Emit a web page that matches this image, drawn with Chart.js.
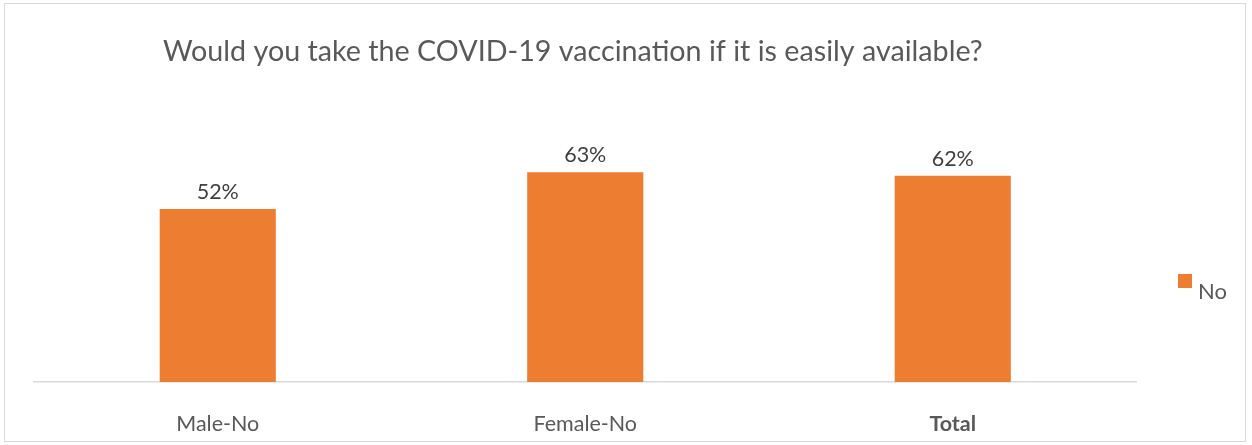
<!DOCTYPE html>
<html lang="en">
<head>
  <meta charset="UTF-8">
  <title>COVID-19 vaccination - No</title>
  <script src="https://cdn.jsdelivr.net/npm/chart.js"></script>
  <style>
    body { margin: 0; background: #fff; }
    .frame {
      position: absolute; left: 4px; top: 3px;
      width: 1240px; height: 437px;
      border: 1px solid #d9d9d9;
    }
    #chart { position: absolute; left: 0; top: 0; }
  </style>
</head>
<body>
  <div class="frame"></div>
  <canvas id="chart" width="1252" height="445"></canvas>

  <script>
    // Data
    const titleText = 'Would you take the COVID-19 vaccination if it is easily available?';
    const categories = ['Male-No', 'Female-No', 'Total'];
    const seriesName = 'No';
    const noValues = [0.52, 0.63, 0.62];

    const orange = '#ED7D31';
    const textGrey = '#595959';
    const fontFam = 'Lato, "Open Sans", sans-serif';

    // title, value labels and legend drawn on top
    const extras = {
      id: 'extras',
      afterDatasetsDraw(chart) {
        const ctx = chart.ctx;
        ctx.save();
        // title
        ctx.fillStyle = textGrey;
        ctx.font = '28.7px ' + fontFam;
        ctx.textAlign = 'left';
        ctx.textBaseline = 'alphabetic';
        ctx.fillText(titleText, 163, 61);

        // value labels
        const meta = chart.getDatasetMeta(0);
        ctx.fillStyle = '#404040';
        ctx.font = '21.5px ' + fontFam;
        ctx.textAlign = 'center';
        ctx.textBaseline = 'alphabetic';
        meta.data.forEach((bar, i) => {
          ctx.fillText(Math.round(noValues[i] * 100) + '%', bar.x, bar.y - 10);
        });

        // legend
        ctx.fillStyle = orange;
        ctx.fillRect(1178, 274, 14, 14);
        ctx.fillStyle = textGrey;
        ctx.font = '22px ' + fontFam;
        ctx.textAlign = 'left';
        ctx.textBaseline = 'alphabetic';
        ctx.fillText(seriesName, 1198, 299);
        ctx.restore();
      }
    };

    new Chart(document.getElementById('chart'), {
      type: 'bar',
      data: {
        labels: categories,
        datasets: [{
          label: seriesName,
          data: noValues,
          backgroundColor: orange,
          barPercentage: 0.632,
          categoryPercentage: 0.5
        }]
      },
      options: {
        responsive: false,
        animation: false,
        layout: { padding: { left: 34, right: 115.5, top: 149, bottom: 10 } },
        plugins: {
          legend: { display: false },
          tooltip: { enabled: false }
        },
        scales: {
          x: {
            afterFit: (s) => { s.height = 53; },
            grid: { display: false, drawTicks: false },
            border: { display: true, color: '#d9d9d9', width: 1.5 },
            ticks: {
              padding: 29,
              color: textGrey,
              font: (c) => ({
                family: fontFam,
                size: 21.5,
                weight: c.index === 2 ? 'bold' : 'normal'
              })
            }
          },
          y: {
            display: false,
            min: 0,
            max: 0.7
          }
        }
      },
      plugins: [extras]
    });
  </script>
</body>
</html>
